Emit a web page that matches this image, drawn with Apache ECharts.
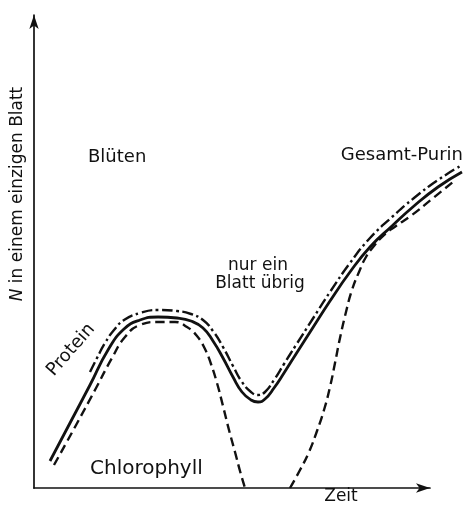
<!DOCTYPE html>
<html>
<head>
<meta charset="utf-8">
<script src="https://cdn.jsdelivr.net/npm/echarts@6/dist/echarts.min.js"></script>
<style>html,body{margin:0;padding:0;background:#fff}#c{width:465px;height:510px}</style>
</head>
<body>
<div id="c"></div>
<script>
// Schematic values (arbitrary units: Zeit on x, N on y)
const gesamtPurin = [[16,27],[36,65],[56,103],[74,138],[90,159],[106,168],[124,171],[143,170],[157,167],[169,160],[179,147],[189,130],[199,111],[208,96],[217,88],[224,86],[231,89],[240,100],[250,115],[262,134],[278,159],[296,187],[316,216],[336,241],[358,262],[380,282],[404,301],[428,316]];
const protein = [[56,116],[63,130],[71,145],[80,158],[90,168],[106,175],[124,178],[143,177],[157,174],[169,168],[179,157],[189,141],[199,122],[208,106],[217,96],[224,93],[231,96],[240,108],[250,124],[262,143],[278,168],[296,196],[316,225],[336,250],[358,271],[380,290],[404,308],[428,323]];
const chlorophyllAlt = [[20,23],[41,61],[61,98],[78,130],[91,151],[106,163],[124,166],[141,166],[153,161],[163,152],[171,139],[177,124],[183,105],[189,82],[195,58],[201,36],[206,17],[211,0]];
const chlorophyllNeu = [[256,0],[266,18],[275,36],[283,57],[290,78],[296,101],[301,125],[306,150],[312,176],[318,198],[325,216],[332,231],[340,242],[350,253],[362,262],[378,273],[398,289],[419,306]];

const FONT = 'DejaVu Sans';
const INK = '#111';
const chart = echarts.init(document.getElementById('c'), null, {renderer: 'canvas'});

function lineSeries(name, data, width, dash) {
  return {
    name: name, type: 'line', xAxisIndex: 1, yAxisIndex: 1, data: data,
    smooth: 0.5, symbol: 'none', silent: true,
    lineStyle: {color: INK, width: width, type: dash, cap: 'butt', join: 'round'}
  };
}

chart.setOption({
  animation: false,
  backgroundColor: '#fff',
  grid: [
    {left: 34, right: 35, top: 15, bottom: 22},
    {left: 34, right: 0, top: 8, bottom: 22}
  ],
  xAxis: [
    {type: 'value', gridIndex: 0, min: 0, max: 1,
     axisLine: {show: true, symbol: ['none', 'arrow'], symbolSize: [7, 14], lineStyle: {color: INK, width: 1.7}},
     axisTick: {show: false}, axisLabel: {show: false}, splitLine: {show: false}},
    {type: 'value', gridIndex: 1, min: 0, max: 431, show: false}
  ],
  yAxis: [
    {type: 'value', gridIndex: 0, min: 0, max: 1,
     axisLine: {show: true, symbol: ['none', 'arrow'], symbolSize: [7, 14], lineStyle: {color: INK, width: 1.7}},
     axisTick: {show: false}, axisLabel: {show: false}, splitLine: {show: false}},
    {type: 'value', gridIndex: 1, min: 0, max: 480, show: false}
  ],
  series: [
    lineSeries('Gesamt-Purin', gesamtPurin, 2.8, 'solid'),
    lineSeries('Protein', protein, 2.4, [11, 3.5, 2.5, 3.5]),
    lineSeries('Chlorophyll', chlorophyllAlt, 2.4, [9, 5]),
    lineSeries('Chlorophyll (neu)', chlorophyllNeu, 2.4, [9, 5])
  ],
  graphic: [
    {type: 'text', x: 18, y: 194, rotation: Math.PI / 2,
     style: {text: '{i|N} in einem einzigen Blatt', font: '17px ' + FONT, fill: INK, align: 'center', verticalAlign: 'middle',
             rich: {i: {fontStyle: 'italic', fontFamily: FONT, fontSize: 17}}}},
    {type: 'text', x: 88, y: 157, style: {text: 'Blüten', font: '18px ' + FONT, fill: INK, align: 'left', verticalAlign: 'middle'}},
    {type: 'text', x: 463, y: 155, style: {text: 'Gesamt-Purin', font: '18px ' + FONT, fill: INK, align: 'right', verticalAlign: 'middle'}},
    {type: 'text', x: 258, y: 266, style: {text: 'nur ein', font: '17px ' + FONT, fill: INK, align: 'center', verticalAlign: 'middle'}},
    {type: 'text', x: 260, y: 284, style: {text: 'Blatt übrig', font: '17px ' + FONT, fill: INK, align: 'center', verticalAlign: 'middle'}},
    {type: 'text', x: 71, y: 350, rotation: 49 * Math.PI / 180, style: {text: 'Protein', font: '18px ' + FONT, fill: INK, align: 'center', verticalAlign: 'middle'}},
    {type: 'text', x: 90, y: 469, style: {text: 'Chlorophyll', font: '20px ' + FONT, fill: INK, align: 'left', verticalAlign: 'middle'}},
    {type: 'text', x: 341, y: 497, style: {text: 'Zeit', font: '17px ' + FONT, fill: INK, align: 'center', verticalAlign: 'middle'}}
  ]
});
</script>
</body>
</html>
